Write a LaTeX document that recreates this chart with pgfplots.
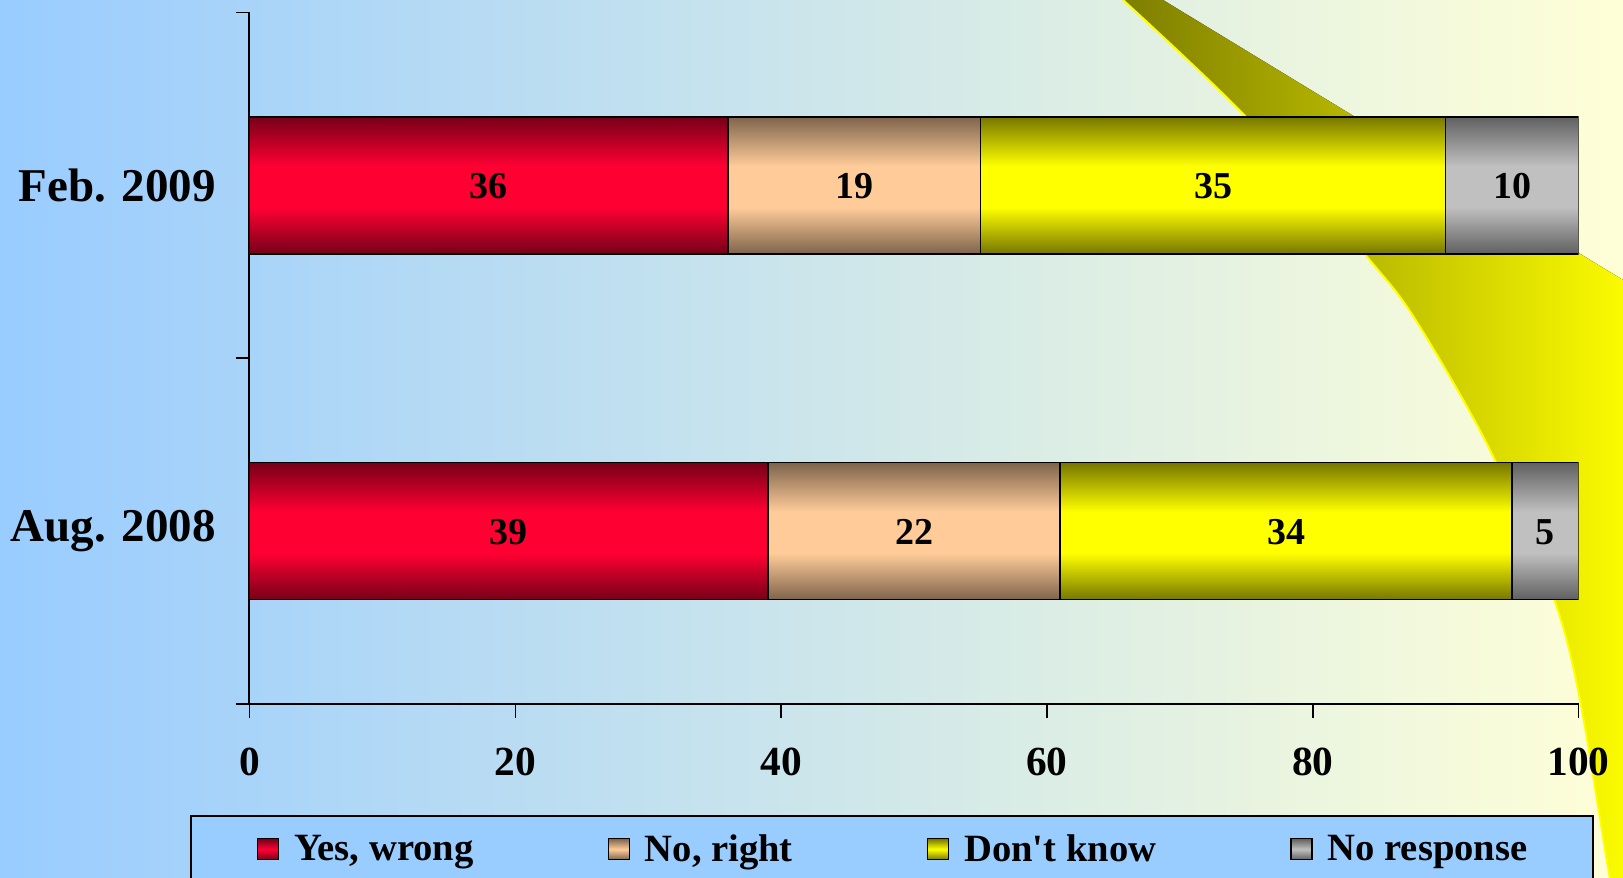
\documentclass[border=0pt]{standalone}
\usepackage{pgfplots}
\pgfplotsset{compat=1.18}
\usepackage{pgfplotstable}
\usepackage{fontspec}
\setmainfont{Liberation Serif}

\definecolor{bgL}{RGB}{153,204,255}
\definecolor{bgR}{RGB}{255,255,215}
\definecolor{oliveA}{RGB}{125,125,0}
\definecolor{swY}{RGB}{255,255,0}
\definecolor{redC}{RGB}{255,0,51}
\definecolor{redE}{RGB}{118,0,24}
\definecolor{peachC}{RGB}{255,204,153}
\definecolor{peachE}{RGB}{126,100,76}
\definecolor{yelC}{RGB}{255,255,0}
\definecolor{yelE}{RGB}{118,118,0}
\definecolor{grayC}{RGB}{192,192,192}
\definecolor{grayE}{RGB}{96,96,96}
\definecolor{legbg}{RGB}{153,204,255}

% vertical shading spanning both bars of one series: dark edges, bright middle in each bar
\newcommand\barshade[3]{\pgfdeclareverticalshading{#1}{100bp}{color(0bp)=(#2); color(25bp)=(#2); color(29.82bp)=(#3); color(34.08bp)=(#3); color(39.19bp)=(#2); color(60.81bp)=(#2); color(65.63bp)=(#3); color(69.89bp)=(#3); color(75bp)=(#2); color(100bp)=(#2)}}
\barshade{redbar}{redE}{redC}
\barshade{peachbar}{peachE}{peachC}
\barshade{yelbar}{yelE}{yelC}
\barshade{graybar}{grayE}{grayC}

% y: 0 = Aug. 2008, 1 = Feb. 2009
\pgfplotstableread{
y v
0 39
1 36
}\yeswrong
\pgfplotstableread{
y v
0 22
1 19
}\noright
\pgfplotstableread{
y v
0 34
1 35
}\dontknow
\pgfplotstableread{
y v
0 5
1 10
}\noresp

\begin{document}
\begin{tikzpicture}
\useasboundingbox (0,0) rectangle (811.5pt,439pt);
\fill[left color=bgL, right color=bgR] (0,0) rectangle (811.5pt,439pt);
\begin{scope}
\clip (0,0) rectangle (811.5pt,439pt);
\begin{scope}[x=0.5pt,y=0.5pt]
\fill[left color=oliveA, right color=swY] plot[smooth] coordinates {(1123,878) (1247,760) (1368,620) (1415,559) (1489,430) (1554,279) (1580,178) (1609,5) (1614,-5)} -- (1640,-5) -- (1640,598) -- (1623,598) -- (1163,878) -- cycle;
\draw[swY, line width=1pt] plot[smooth] coordinates {(1123,878) (1247,760) (1368,620) (1415,559) (1489,430) (1554,279) (1580,178) (1609,5) (1614,-5)};
\end{scope}
\end{scope}
\begin{axis}[
  at={(124.75pt,87pt)}, anchor=south west,
  scale only axis, width=664.5pt, height=345.8pt,
  xbar stacked, bar width=68.5pt,
  xmin=0, xmax=100, ymin=-0.5, ymax=1.5,
  xtick={0,20,...,100},
  ytick={-0.5,0.5,1.5}, yticklabels={Aug. 2008, Feb. 2009}, y tick label as interval,
  axis lines=left, axis line style={-, line width=1pt},
  x axis line style={line width=1.3pt},
  tick align=outside, major tick length=7pt, tick style={black, line width=0.8pt},
  /pgf/number format/assume math mode=true,
  xticklabel style={font=\bfseries\fontsize{20.7}{24}\selectfont, inner sep=0pt, yshift=-15pt},
  yticklabel style={font=\bfseries\fontsize{23.5}{28}\selectfont, inner sep=0pt, xshift=-9.65pt},
  nodes near coords,
  point meta=explicit,
  every node near coord/.append style={anchor=center, yshift=-0.6pt, font=\bfseries\fontsize{19}{22}\selectfont, text=black},
  legend columns=4,
  legend cell align=left,
  legend style={at={(-0.045,-0.16)}, anchor=north west, fill=legbg, draw=black, line width=1pt,
    inner xsep=33pt, inner ysep=9.6pt,
    nodes={inner sep=0pt, font=\bfseries\fontsize{19.3}{23}\selectfont, text=black},
    /tikz/every odd column/.append style={column sep=7.5pt},
    /tikz/every even column/.append style={column sep=67pt}},
]
\addplot[draw=black, line width=0.8pt, shade, shading=redbar,
  legend image code/.code={\draw[draw=black, line width=0.7pt, top color=redE, bottom color=redE, middle color=redC] (0pt,-5pt) rectangle (10.5pt,5.5pt);}]
  table[x=v, y=y, meta=v] {\yeswrong};
\addlegendentry{Yes, wrong}
\addplot[draw=black, line width=0.8pt, shade, shading=peachbar,
  legend image code/.code={\draw[draw=black, line width=0.7pt, top color=peachE, bottom color=peachE, middle color=peachC] (0pt,-5pt) rectangle (10.5pt,5.5pt);}]
  table[x=v, y=y, meta=v] {\noright};
\addlegendentry{No, right}
\addplot[draw=black, line width=0.8pt, shade, shading=yelbar,
  legend image code/.code={\draw[draw=black, line width=0.7pt, top color=yelE, bottom color=yelE, middle color=yelC] (0pt,-5pt) rectangle (10.5pt,5.5pt);}]
  table[x=v, y=y, meta=v] {\dontknow};
\addlegendentry{Don\textquotesingle t know}
\addplot[draw=black, line width=0.8pt, shade, shading=graybar,
  legend image code/.code={\draw[draw=black, line width=0.7pt, top color=grayE, bottom color=grayE, middle color=grayC] (0pt,-5pt) rectangle (10.5pt,5.5pt);}]
  table[x=v, y=y, meta=v] {\noresp};
\addlegendentry{No response}
\end{axis}
\end{tikzpicture}
\end{document}
